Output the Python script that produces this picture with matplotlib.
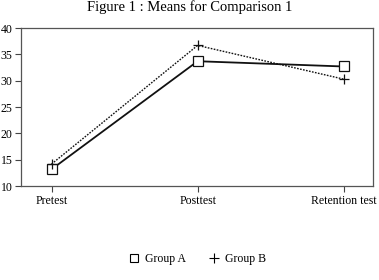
import matplotlib
matplotlib.use("Agg")
import matplotlib.pyplot as plt
from matplotlib.lines import Line2D

categories = ["Pretest", "Posttest", "Retention test"]
group_a = [13.2, 33.7, 32.7]
group_b = [14.2, 36.7, 30.3]
yticks = [10, 15, 20, 25, 30, 35, 40]

plt.rcParams['font.family'] = ['Liberation Serif', 'DejaVu Serif']

fig = plt.figure(figsize=(3.79, 2.8), dpi=100)
ax = fig.add_axes([0.055, 0.335, 0.929, 0.565])

x = list(range(len(categories)))
ax.plot(x, group_a, color='#111111', lw=1.3, marker='s', ms=6.5,
        mfc='white', mec='#111111', mew=0.9, label='Group A')
ax.plot(x, group_b, color='#111111', lw=1.0, ls=(0, (1.2, 1.0)), marker='+',
        ms=7, mew=0.9, label='Group B')

ax.set_xlim(-0.21, 2.2)
ax.set_ylim(10, 40)
ax.set_yticks(yticks)
ax.set_xticks(x)
ax.set_xticklabels(categories)
ax.tick_params(labelsize=8.5, length=4, width=0.8, color='#444444', pad=2)
for s in ax.spines.values():
    s.set_linewidth(0.9)
    s.set_color('#555555')

fig.text(0.5, 0.975, "Figure 1 : Means for Comparison 1", ha='center', va='center', fontsize=10.5)

handles = [Line2D([], [], ls='none', marker='s', ms=6, mfc='white', mec='black', mew=0.8),
           Line2D([], [], ls='none', marker='+', ms=6.5, mec='black', mew=0.8)]
fig.legend(handles, ['Group A', 'Group B'], loc='center', bbox_to_anchor=(0.52, 0.075),
           ncol=2, frameon=False, fontsize=8.5, handlelength=1.0, handletextpad=0.5,
           columnspacing=1.8)

fig.savefig("out.png", dpi=100)
